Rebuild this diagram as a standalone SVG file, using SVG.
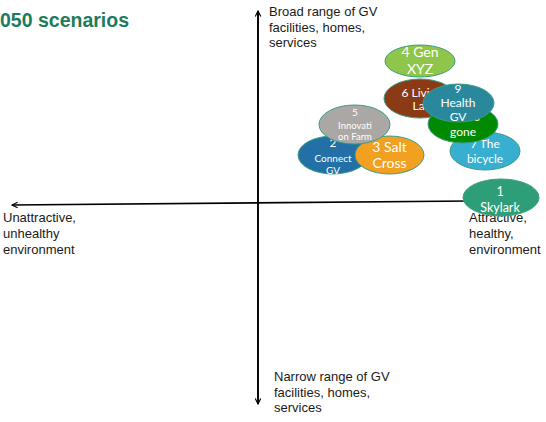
<svg xmlns="http://www.w3.org/2000/svg" width="546" height="422" viewBox="0 0 546 422">
<style>
.lbl{font-family:"Liberation Sans",Arial,sans-serif;font-size:13px;fill:#1a1a1a}
.title{font-family:"Liberation Sans",Arial,sans-serif;font-size:19.5px;font-weight:bold;fill:#1e7b5c}
.node ellipse{stroke:#3a9d86;stroke-width:1}
.node text{font-family:Lato,"Open Sans",sans-serif;fill:#ffffff;text-anchor:middle}
.axis{stroke:#000;stroke-width:1.6;fill:none}
</style>
<defs>
<marker id="ah" viewBox="0 0 10 10" refX="9" refY="5" markerWidth="7" markerHeight="7" markerUnits="userSpaceOnUse" orient="auto">
<path d="M1,1 L9,5 L1,9" fill="none" stroke="#000" stroke-width="1.6"/>
</marker>
</defs>
<rect width="546" height="422" fill="#ffffff"/>
<text class="title" x="0" y="27">050 scenarios</text>
<g id="connectors">
<line class="axis" x1="258" y1="404" x2="258" y2="11" marker-end="url(#ah)"/>
<line class="axis" x1="258" y1="11" x2="258" y2="404" marker-end="url(#ah)"/>
<line class="axis" x1="470" y1="201" x2="12" y2="205" marker-end="url(#ah)"/>
</g>
<g id="axis-labels">
<text class="lbl" x="269" y="16">Broad range of GV</text>
<text class="lbl" x="269" y="32">facilities, homes,</text>
<text class="lbl" x="269" y="47">services</text>
<text class="lbl" x="274" y="381">Narrow range of GV</text>
<text class="lbl" x="274" y="397">facilities, homes,</text>
<text class="lbl" x="274" y="412">services</text>
<text class="lbl" x="3" y="222">Unattractive,</text>
<text class="lbl" x="3" y="238">unhealthy</text>
<text class="lbl" x="3" y="254">environment</text>
<text class="lbl" x="469" y="222">Attractive,</text>
<text class="lbl" x="469" y="238">healthy,</text>
<text class="lbl" x="469" y="254">environment</text>
</g>
<g id="n4" class="node"><ellipse cx="420" cy="61" rx="35" ry="16" fill="#8fc54a"/><text x="420" y="57" font-size="14">4 Gen</text><text x="420" y="74" font-size="14">XYZ</text></g>
<g id="n6" class="node"><ellipse cx="420" cy="98.5" rx="36" ry="19.5" fill="#8a3a14"/><text x="422" y="97" font-size="12">6 Living</text><text x="422" y="110" font-size="12">Lab</text></g>
<g id="n7" class="node"><ellipse cx="485" cy="151" rx="35" ry="19" fill="#38afd0"/><text x="485" y="148" font-size="12">7 The</text><text x="485" y="163" font-size="12">bicycle</text></g>
<g id="n8" class="node"><ellipse cx="463" cy="124" rx="35" ry="19" fill="#018a00"/><text x="463" y="121" font-size="12">8 Cars</text><text x="463" y="136" font-size="12">gone</text></g>
<g id="n9" class="node"><ellipse cx="458.5" cy="103" rx="35.5" ry="19" fill="#2a889c"/><text x="458" y="93" font-size="12">9</text><text x="458" y="107" font-size="12">Health</text><text x="458" y="121" font-size="12">GV</text></g>
<g id="n2" class="node"><ellipse cx="333" cy="155" rx="35" ry="19" fill="#2270a6"/><text x="333" y="147" font-size="12">2</text><text x="333" y="162" font-size="10">Connect</text><text x="333" y="174" font-size="10">GV</text></g>
<g id="n3" class="node"><ellipse cx="389.5" cy="155" rx="34.5" ry="19" fill="#f1a022"/><text x="389.5" y="152" font-size="14">3 Salt</text><text x="389.5" y="168" font-size="14">Cross</text></g>
<g id="n5" class="node"><ellipse cx="354.5" cy="124.5" rx="35.5" ry="19.5" fill="#aba7a4"/><text x="355" y="116" font-size="10">5</text><text x="355" y="129" font-size="9.5">Innovati</text><text x="355" y="140" font-size="9.5">on Farm</text></g>
<g id="n1" class="node"><ellipse cx="501" cy="197.5" rx="38" ry="18.5" fill="#2e9e78"/><text x="500" y="196" font-size="12.5">1</text><text x="500" y="212" font-size="12.5">Skylark</text></g>
</svg>
